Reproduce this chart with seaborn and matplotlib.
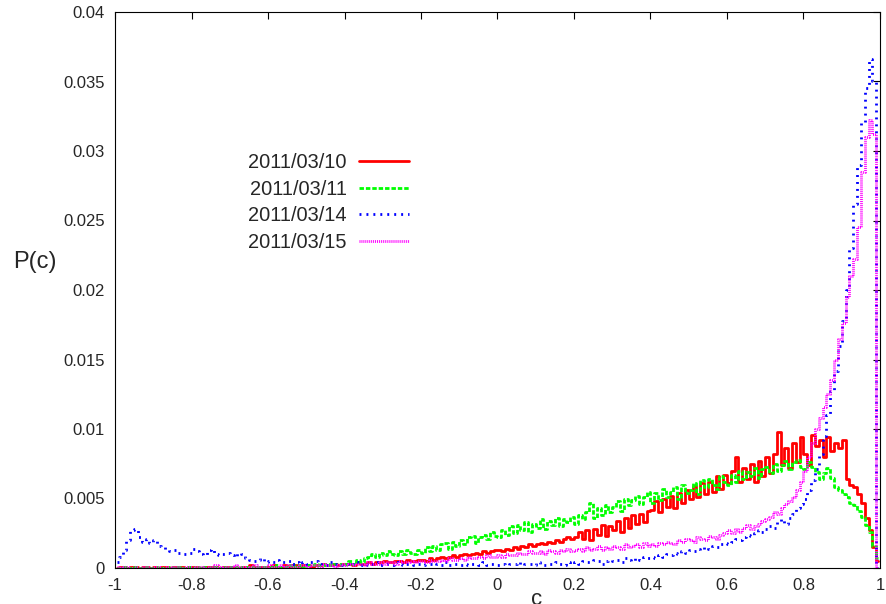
import numpy as np
import pandas as pd
import matplotlib
matplotlib.use("Agg")
import matplotlib.pyplot as plt
import seaborn as sns
from matplotlib.ticker import FixedLocator, FuncFormatter

# bin centres: c = -0.995 ... 0.995, bin width 0.01 ; values in units of 1e-4
bin_centers = np.round(np.arange(-0.995, 1.0, 0.01), 3)

p_0310 = [
    0, 1, 1, 0, 1, 1, 0, 1, 1, 0, 1, 0, 1, 1, 0, 1, 1, 1, 0, 1,
    1, 1, 0, 1, 1, 1, 1, 0, 1, 1, 1, 1, 0, 1, 1, 2, 1, 1, 1, 1,
    1, 2, 1, 1, 2, 1, 2, 2, 1, 2, 2, 1, 2, 2, 3, 2, 2, 3, 2, 3,
    3, 3, 2, 4, 3, 3, 4, 3, 4, 4, 5, 4, 4, 5, 5, 4, 6, 5, 5, 6,
    6, 5, 7, 6, 7, 8, 7, 8, 9, 8, 9, 10, 9, 10, 11, 10, 12, 11, 12, 13,
    13, 12, 14, 13, 15, 14, 16, 15, 17, 16, 17, 18, 17, 19, 18, 20, 19, 21, 22, 21,
    22, 26, 21, 27, 20, 28, 24, 31, 23, 30, 27, 34, 26, 36, 29, 38, 32, 39, 33, 41,
    42, 48, 40, 50, 44, 52, 43, 54, 47, 56, 50, 59, 51, 61, 53, 62, 55, 66, 57, 67,
    61, 70, 80, 62, 72, 64, 75, 62, 77, 66, 80, 68, 82, 98, 74, 86, 72, 90, 76, 94,
    82, 74, 96, 88, 92, 80, 94, 84, 90, 86, 92, 64, 60, 58, 53, 47, 36, 27, 15, 5,
]

p_0311 = [
    0, 0, 1, 0, 0, 1, 0, 0, 1, 0, 0, 1, 0, 0, 1, 0, 1, 0, 0, 1,
    0, 1, 0, 1, 0, 1, 1, 0, 1, 0, 1, 1, 0, 1, 1, 1, 0, 1, 1, 1,
    1, 1, 2, 1, 1, 2, 1, 2, 2, 1, 2, 2, 3, 2, 2, 3, 2, 3, 3, 2,
    3, 5, 3, 6, 4, 7, 8, 10, 8, 11, 9, 12, 10, 9, 12, 10, 13, 11, 10, 13,
    11, 15, 12, 16, 13, 17, 18, 14, 19, 16, 20, 17, 22, 23, 18, 22, 24, 21, 26, 23,
    22, 27, 24, 30, 25, 31, 27, 33, 26, 32, 29, 35, 28, 34, 31, 36, 30, 35, 33, 37,
    32, 38, 35, 40, 47, 36, 43, 38, 45, 40, 44, 48, 41, 50, 45, 49, 52, 46, 51, 55,
    47, 54, 49, 57, 51, 55, 58, 50, 60, 54, 56, 61, 53, 63, 58, 64, 60, 57, 66, 62,
    60, 67, 62, 70, 64, 69, 66, 72, 65, 71, 73, 68, 75, 70, 74, 77, 71, 76, 78, 73,
    71, 76, 73, 69, 64, 68, 72, 65, 58, 56, 53, 51, 47, 45, 41, 37, 31, 26, 16, 7,
]

p_0314 = [
    4, 8, 13, 20, 27, 28, 22, 19, 21, 18, 20, 16, 15, 13, 12, 13, 11, 10, 10, 11,
    14, 12, 10, 9, 13, 14, 10, 9, 10, 11, 9, 8, 11, 10, 7, 6, 5, 6, 7, 4,
    5, 4, 6, 4, 4, 5, 3, 4, 3, 4, 3, 4, 5, 3, 3, 2, 4, 3, 3, 2,
    3, 2, 3, 4, 2, 3, 2, 3, 4, 2, 3, 3, 2, 4, 3, 2, 3, 3, 2, 3,
    2, 3, 3, 2, 3, 2, 4, 2, 3, 3, 2, 3, 2, 3, 3, 2, 4, 2, 3, 3,
    2, 3, 2, 3, 3, 4, 2, 3, 3, 2, 4, 3, 2, 3, 3, 4, 3, 2, 4, 3,
    4, 3, 5, 4, 4, 6, 5, 3, 5, 6, 5, 6, 4, 7, 6, 5, 7, 6, 8, 7,
    8, 7, 9, 8, 10, 9, 11, 10, 12, 11, 13, 12, 14, 13, 15, 14, 16, 15, 17, 18,
    17, 19, 21, 20, 22, 24, 23, 25, 27, 26, 28, 30, 29, 33, 35, 32, 36, 39, 43, 46,
    50, 56, 63, 71, 82, 95, 110, 127, 142, 160, 178, 200, 230, 262, 290, 320, 345, 366, 350, 0,
]

p_0315 = [
    1, 0, 1, 1, 0, 1, 0, 1, 1, 0, 1, 1, 0, 1, 0, 1, 1, 0, 1, 1,
    0, 1, 1, 0, 1, 1, 2, 1, 0, 1, 1, 2, 1, 1, 0, 1, 2, 1, 1, 1,
    2, 1, 1, 2, 1, 2, 1, 1, 2, 2, 1, 2, 2, 1, 3, 2, 2, 1, 2, 3,
    2, 3, 2, 3, 3, 2, 4, 3, 3, 4, 3, 4, 4, 3, 5, 4, 4, 5, 4, 5,
    5, 4, 6, 5, 5, 6, 5, 7, 6, 6, 7, 6, 8, 7, 7, 8, 7, 9, 8, 8,
    9, 8, 10, 9, 9, 11, 10, 10, 12, 11, 11, 12, 10, 13, 12, 11, 13, 12, 14, 12,
    13, 14, 12, 15, 13, 14, 16, 13, 15, 14, 16, 15, 14, 17, 15, 16, 17, 15, 18, 16,
    17, 16, 18, 17, 19, 18, 17, 20, 19, 21, 20, 19, 22, 21, 20, 23, 22, 21, 24, 25,
    27, 25, 28, 26, 29, 31, 28, 30, 32, 34, 35, 37, 40, 39, 43, 46, 48, 51, 56, 62,
    70, 80, 90, 100, 108, 116, 125, 135, 150, 165, 176, 195, 210, 222, 245, 285, 310, 322, 312, 0,
]

labels = ["2011/03/10", "2011/03/11", "2011/03/14", "2011/03/15"]
series = [p_0310, p_0311, p_0314, p_0315]
colors = ["#ff0000", "#00ff00", "#0000ff", "#ff00ff"]
dash_patterns = [None, (1.6, 0.7), (0.7, 1.8), (0.35, 0.35)]

x_ticks = [-1, -0.8, -0.6, -0.4, -0.2, 0, 0.2, 0.4, 0.6, 0.8, 1]
y_ticks = [0, 0.005, 0.01, 0.015, 0.02, 0.025, 0.03, 0.035, 0.04]

sns.set_style("white")
plt.rcParams["font.family"] = ["Liberation Sans", "DejaVu Sans"]

fig = plt.figure(figsize=(8.87, 6.04), dpi=100)
ax = fig.add_axes([115 / 887, 36 / 604, 765 / 887, 556 / 604])

for lab, vals, col, dp in zip(labels, series, colors, dash_patterns):
    df = pd.DataFrame({"c": bin_centers, "P": np.array(vals) * 1e-4})
    sns.lineplot(data=df, x="c", y="P", color=col, lw=2.0, drawstyle="steps-mid",
                 ax=ax, label=lab, estimator=None, sort=True)
    line = ax.lines[-1]
    if dp is not None:
        line.set_dashes(dp)
        line.set_dash_capstyle("butt")

ax.set_xlim(-1, 1)
ax.set_ylim(0, 0.04)
ax.xaxis.set_major_locator(FixedLocator(x_ticks))
ax.yaxis.set_major_locator(FixedLocator(y_ticks))
ax.xaxis.set_major_formatter(FuncFormatter(lambda v, p: "%g" % round(v, 3)))
ax.yaxis.set_major_formatter(FuncFormatter(lambda v, p: "%g" % round(v, 4)))
ax.tick_params(direction="in", top=True, right=True, length=5, width=0.8,
               labelsize=12, color="black")
ax.tick_params(axis="x", pad=7)
ax.tick_params(axis="y", pad=7.5)
for s in ax.spines.values():
    s.set_color("black")
    s.set_linewidth(0.8)

ax.set_xlabel("c", fontsize=16)
ax.xaxis.set_label_coords((537 - 115) / 765, -0.038)
ax.set_ylabel("P(c)", fontsize=17, rotation=0, ha="center", va="center")
ax.yaxis.set_label_coords((35 - 115) / 765, (568 - 262) / 556)

leg = ax.legend(loc="upper left", bbox_to_anchor=((248 - 115) / 765, (568 - 153) / 556),
                frameon=False, markerfirst=False, fontsize=14.4, handlelength=2.5,
                handletextpad=0.6, labelspacing=0.38, borderpad=0, borderaxespad=0)
for h in leg.get_lines():
    h.set_linewidth(2.0)

fig.savefig("out.png", dpi=100)
